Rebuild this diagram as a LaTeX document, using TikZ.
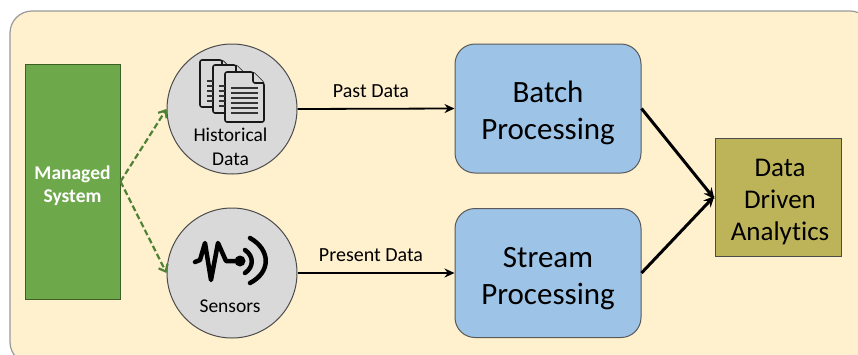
\documentclass[tikz,border=0pt]{standalone}
\usepackage{fontspec}
\setmainfont[Ligatures=NoCommon]{Carlito}
\usetikzlibrary{arrows.meta}
\definecolor{panelc}{HTML}{FFF0CE}
\definecolor{greenc}{HTML}{6DA84A}
\definecolor{greend}{HTML}{4F8236}
\definecolor{greenb}{HTML}{3E5E28}
\definecolor{bluec}{HTML}{9DC3E6}
\definecolor{olivec}{HTML}{BDB45A}
\definecolor{greyc}{HTML}{D9D9D9}
\tikzset{
  x=1pt,y=-1pt,
  panelbox/.style={draw=black!40,fill=panelc,line width=1.2pt,rounded corners=22pt},
  managedbox/.style={draw=greenb,fill=greenc,line width=1pt,minimum width=95pt,minimum height=235pt,inner sep=0pt,text=white,align=center,font=\fontsize{19.5}{23}\selectfont\bfseries},
  roundc/.style={circle,draw=black!70,fill=greyc,line width=1pt,minimum size=130pt,inner sep=0pt},
  procbox/.style={draw=black!65,fill=bluec,line width=1pt,rounded corners=20pt,minimum width=186pt,minimum height=129pt,inner sep=0pt,align=center,font=\fontsize{31}{37}\selectfont},
  resultbox/.style={draw=black!70,fill=olivec,line width=1pt,minimum width=126pt,minimum height=118pt,inner sep=0pt,align=center,font=\fontsize{27}{32}\selectfont},
  lab/.style={font=\fontsize{19.5}{24}\selectfont,align=center,inner sep=0pt},
  edgelab/.style={font=\fontsize{20}{22}\selectfont,inner sep=0pt},
  dataflow/.style={-{Stealth[length=10pt,width=9pt]},line width=1.8pt,black},
  thickflow/.style={-{Stealth[length=11pt,width=10pt]},line width=3pt,black},
  feed/.style={-{Straight Barb[length=6pt,width=10pt]},dash pattern=on 6pt off 3pt,line width=2.2pt,greend},
  page/.style={draw=black!90,fill=greyc,line width=1.6pt,rounded corners=2pt,line join=round},
  txtline/.style={draw=black!80,line width=1.4pt},
  wave/.style={draw=black,line width=4.5pt,line cap=round,line join=round,fill=none},
}
\newcommand{\docpage}[4]{%
  \draw[page] (#1,#2) -- (#3-11,#2) -- (#3,#2+11) -- (#3,#4) -- (#1,#4) -- cycle;
  \draw[page] (#3-11,#2) -- (#3-11,#2+11) -- (#3,#2+11);
}
\begin{document}
\begin{tikzpicture}
\useasboundingbox (0,0) rectangle (858,354);
\begin{scope}
\clip (0,0) rectangle (858,354);
\draw[panelbox] (10,11) rectangle (872,364);
\end{scope}

\node[managedbox] (managed) at (72.5,181.5) {\rule{0pt}{22pt}Managed\\System};
\node[roundc] (hist) at (232,109) {};
\node[roundc] (sens) at (232,273) {};
\node[procbox] (batch) at (548,108.5) {\rule{0pt}{31pt}Batch\\Processing};
\node[procbox] (stream) at (548,273) {\rule{0pt}{31pt}Stream\\Processing};
\node[resultbox] (ana) at (778,197) {\rule{0pt}{27pt}\hspace*{4pt}Data\\\hspace*{4pt}Driven\\\hspace*{4pt}Analytics};

% document icon
\docpage{200}{60}{233}{107}
\docpage{213}{65}{247}{113}
\docpage{225}{72}{264}{122}
\foreach \yy in {88,93,98,103,108,113}
  \draw[txtline] (231,\yy) -- (258,\yy);
\foreach \yy in {81,86,91,96,101}
  \draw[txtline] (207,\yy) -- (213,\yy);
\foreach \yy in {86,91,96,101,106}
  \draw[txtline] (219,\yy) -- (225,\yy);

\node[lab] (histlab) at (230.5,147) {Historical\\Data};

% sensor icon
\draw[wave] (195,262) -- (200,260) -- (205,243) -- (211,280) -- (218,243) -- (226,261) -- (240,261);
\fill[black] (240,261) circle (5.5pt);
\draw[wave] (245,250) .. controls (254,256) and (254,267) .. (245,273);
\draw[wave] (250,238) .. controls (271,250) and (271,272) .. (250,283);

\node[lab] (senslab) at (230,306) {Sensors};

% connectors
\draw[feed] (managed.east) -- (hist.west);
\draw[feed] (managed.east) -- (sens.west);
\draw[dataflow] (hist.east) -- node[edgelab,above=10pt,xshift=-5pt] {Past Data} (batch.west);
\draw[dataflow] (sens.east) -- node[edgelab,above=10pt,xshift=-5pt] {Present Data} (stream.west);
\draw[thickflow] (batch.east) -- ([yshift=-2pt]ana.west);
\draw[thickflow] (stream.east) -- ([yshift=1pt]ana.west);
\end{tikzpicture}
\end{document}
